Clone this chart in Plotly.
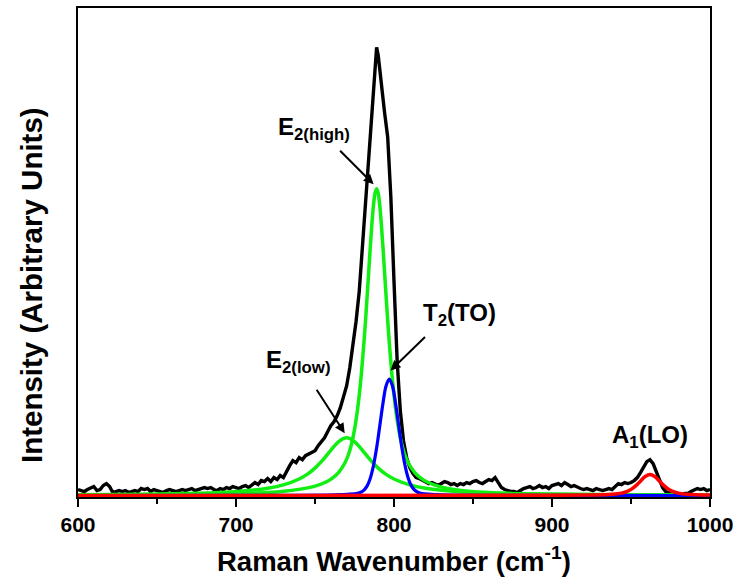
import plotly.graph_objects as go

# ---------------- data (intensity in arbitrary units) ----------------
raman_x = [600, 602, 604, 606, 608, 610, 612, 614, 616, 618, 620, 622, 624, 626, 628, 630,
           632, 634, 636, 638, 640, 642, 644, 646, 648, 650, 652, 654, 656, 658, 660, 662,
           664, 666, 668, 670, 672, 674, 676, 678, 680, 682, 684, 686, 688, 690, 692, 694,
           696, 698, 700, 702, 704, 706, 708, 710, 712, 714, 716, 718, 720, 722, 724, 726,
           728, 730, 732, 734, 736, 738, 740, 742, 744, 746, 748, 750, 752, 754, 756, 758,
           760, 762, 764, 766, 768, 770, 772, 774, 776, 778, 780, 782, 784, 786, 788, 789,
           790, 792, 794, 796, 798, 800, 802, 804, 806, 808, 810, 812, 814, 816, 818, 820,
           822, 824, 826, 828, 830, 832, 834, 836, 838, 840, 842, 844, 846, 848, 850, 852,
           854, 856, 858, 860, 862, 864, 866, 868, 870, 872, 874, 876, 878, 880, 882, 884,
           886, 888, 890, 892, 894, 896, 898, 900, 902, 904, 906, 908, 910, 912, 914, 916,
           918, 920, 922, 924, 926, 928, 930, 932, 934, 936, 938, 940, 942, 944, 946, 948,
           950, 952, 954, 956, 958, 960, 962, 964, 966, 968, 970, 972, 974, 976, 978, 980,
           982, 984, 986, 988, 990, 992, 994, 996, 998, 1000]
raman_y = [6, 5, 4, 6, 8, 9, 5, 6, 10, 12, 9, 3, 4, 5, 4, 5,
           3, 4, 5, 4, 7, 6, 7, 4, 6, 5, 4, 3, 5, 6, 5, 4,
           5, 6, 5, 6, 7, 5, 6, 7, 8, 7, 8, 6, 5, 7, 6, 8,
           7, 9, 8, 7, 9, 10, 8, 10, 13, 11, 15, 14, 17, 14, 18, 16,
           20, 18, 25, 30, 35, 33, 38, 36, 40, 42, 44, 45, 50, 54, 58, 64,
           70, 74, 80, 88, 98, 110, 128, 150, 175, 205, 250, 298, 345, 385, 430, 450,
           442, 410, 385, 360, 300, 215, 135, 85, 55, 38, 28, 22, 18, 17, 15, 14,
           12, 13, 11, 10, 12, 14, 13, 11, 12, 10, 12, 11, 13, 12, 14, 15,
           13, 12, 14, 16, 15, 18, 13, 8, 6, 5, 4, 4, 3, 5, 7, 8,
           9, 7, 8, 10, 8, 9, 7, 10, 11, 12, 10, 13, 11, 9, 10, 8,
           7, 6, 7, 6, 5, 7, 6, 5, 6, 7, 6, 9, 12, 11, 13, 12,
           13, 15, 18, 23, 29, 34, 36, 32, 24, 15, 8, 4, 2, 1, 1, 1,
           1, 2, 2, 4, 6, 7, 6, 7, 5, 6]

e2high_x = [600, 639, 679, 709, 729, 749, 757, 761, 765, 769, 771, 773, 775, 777, 779, 781,
            782, 783, 784, 785, 786, 787, 788, 789, 790, 791, 792, 793, 794, 795, 796, 797,
            799, 801, 803, 805, 807, 809, 813, 817, 821, 829, 839, 849, 869, 889, 939, 979, 1000]
e2high_y = [0.41, 0.65, 1.2, 2.3, 4.0, 8.9, 13.6, 17.4, 23.3, 32.9, 40.4, 51, 66.1, 87.3, 116.2, 154,
            176.1, 200, 224.8, 249.6, 272.3, 291.1, 303.6, 308, 303.6, 291.1, 272.3, 249.6, 224.8, 200, 176.1, 154,
            116.2, 87.3, 66.1, 51, 40.4, 32.9, 23.3, 17.4, 13.6, 8.9, 5.8, 4.0, 2.3, 1.5, 0.65, 0.41, 0.33]

e2low_x = [600, 640, 670, 690, 710, 720, 730, 740, 745, 750, 755, 760, 765, 770, 775, 780,
           785, 790, 795, 800, 810, 820, 830, 850, 870, 900, 940, 1000]
e2low_y = [0.72, 1.2, 2.0, 3.1, 5.3, 7.3, 10.7, 16.6, 21.2, 27.5, 35.7, 45.4, 54.2, 58, 54.2, 45.4,
           35.7, 27.5, 21.2, 16.6, 10.7, 7.3, 5.3, 3.1, 2.0, 1.2, 0.72, 0.39]

t2_x = [600, 697, 737, 757, 767, 772, 777, 779, 781, 783, 785, 787, 789, 790, 791, 793, 795, 797,
        799, 801, 803, 804, 805, 807, 809, 811, 813, 815, 817, 822, 827, 837, 857, 897, 1000]
t2_y = [0.02, 0.1, 0.24, 0.5, 0.9, 1.3, 2.3, 3.3, 5.5, 9.7, 17.4, 30, 47.8, 58.5, 69.9, 92.5, 110.2, 117,
        110.2, 92.5, 69.9, 58.5, 47.8, 30, 17.4, 9.7, 5.5, 3.3, 2.3, 1.3, 0.9, 0.5, 0.24, 0.1, 0.02]

a1_x = [600, 900, 924, 932, 938, 944, 948, 951, 954, 956, 959, 962, 965, 968, 970, 973, 976,
        980, 986, 992, 1000]
a1_y = [0.01, 0.19, 0.5, 0.78, 1.2, 2.4, 4.4, 7.2, 11.2, 14.4, 19.0, 21, 19.0, 14.4, 11.2, 7.2, 4.4,
        2.4, 1.2, 0.78, 0.5]

x_ticks = [600, 700, 800, 900, 1000]
x_minor = [650, 750, 850, 950]

FONT = "Liberation Sans, Arial, sans-serif"

fig = go.Figure()
fig.add_trace(go.Scatter(x=raman_x, y=raman_y, mode="lines",
                         line=dict(color="black", width=3.4), name="spectrum"))
fig.add_trace(go.Scatter(x=e2low_x, y=e2low_y, mode="lines", line_shape="spline",
                         line=dict(color="#11EE11", width=3.5), name="E2(low)"))
fig.add_trace(go.Scatter(x=e2high_x, y=e2high_y, mode="lines", line_shape="spline",
                         line=dict(color="#11EE11", width=3.5), name="E2(high)"))
fig.add_trace(go.Scatter(x=t2_x, y=t2_y, mode="lines", line_shape="spline",
                         line=dict(color="#0000FF", width=3.2), name="T2(TO)"))
fig.add_trace(go.Scatter(x=a1_x, y=a1_y, mode="lines", line_shape="spline",
                         line=dict(color="#FF0000", width=3.5), name="A1(LO)"))

lab_font = dict(family=FONT, size=24, color="black", weight="bold")

# text labels
labels = [
    ("E<sub>2(high)</sub>", 725.4, 369),
    ("T<sub>2</sub>(TO)", 817.3, 182),
    ("E<sub>2(low)</sub>", 717.8, 135),
    ("A<sub>1</sub>(LO)", 937.0, 59),
]
for txt, lx, ly in labels:
    fig.add_annotation(x=lx, y=ly, xref="x", yref="y", text=txt, showarrow=False,
                       xanchor="left", yanchor="middle", font=lab_font)

# arrows (head position in data, tail offset in pixels)
arrows = [
    (787.1, 312.5, -35, -35),
    (797.8, 125.5, 36, -35),
    (768.8, 62.5, -29, -45),
]
for hx, hy, axp, ayp in arrows:
    fig.add_annotation(x=hx, y=hy, xref="x", yref="y", text="", showarrow=True,
                       ax=axp, ay=ayp, arrowhead=2, arrowsize=1, arrowwidth=2,
                       arrowcolor="black", standoff=0, startstandoff=0)

# axis titles
fig.add_annotation(x=0.5, y=-0.128, xref="paper", yref="paper",
                   text="Raman Wavenumber (cm<sup>-1</sup>)", showarrow=False,
                   xanchor="center", yanchor="middle",
                   font=dict(family=FONT, size=27.5, color="black", weight="bold"))
fig.add_annotation(x=-0.0724, y=0.434, xref="paper", yref="paper",
                   text="Intensity (Arbitrary Units)", showarrow=False, textangle=-90,
                   xanchor="center", yanchor="middle",
                   font=dict(family=FONT, size=29.5, color="black", weight="bold"))

fig.update_layout(
    width=739, height=581, autosize=False,
    margin=dict(l=78, r=26, t=6, b=84),
    plot_bgcolor="white", paper_bgcolor="white",
    showlegend=False,
)
fig.update_xaxes(range=[600, 1000], tickvals=x_ticks, ticktext=[str(v) for v in x_ticks],
                 ticks="outside", ticklen=8, tickwidth=2, tickcolor="black",
                 showline=True, linewidth=2, linecolor="black", mirror=True,
                 showgrid=False, zeroline=False,
                 tickfont=dict(family=FONT, size=21, color="black", weight="bold"),
                 minor=dict(tickvals=x_minor, ticks="outside", ticklen=5, tickwidth=2,
                            tickcolor="black", showgrid=False))
fig.update_yaxes(range=[-1.5, 489.5], showticklabels=False, ticks="",
                 showline=True, linewidth=2, linecolor="black", mirror=True,
                 showgrid=False, zeroline=False)

fig.write_html("out.html",
               config={"displayModeBar": False},
               post_script="document.body.style.margin='0';document.body.style.padding='0';"
                           "document.body.style.overflow='hidden';")
